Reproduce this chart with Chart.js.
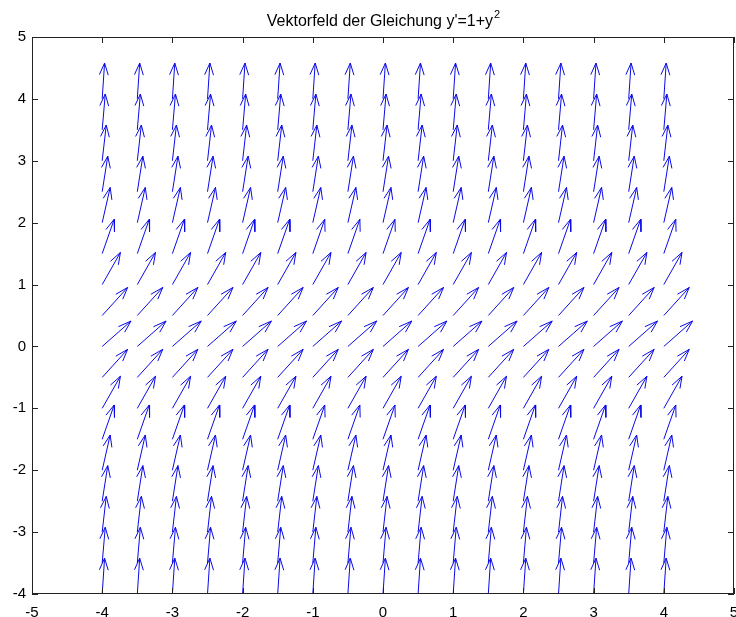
<!DOCTYPE html>
<html>
<head>
<meta charset="utf-8">
<title>Vektorfeld</title>
<script src="https://cdn.jsdelivr.net/npm/chart.js@4/dist/chart.umd.min.js"></script>
<style>
  html, body { margin: 0; padding: 0; background: #fff; }
  canvas { display: block; }
</style>
</head>
<body>
<canvas id="field" width="736" height="617"></canvas>
<script>
// grid points of the field
const xGrid = [-4, -3.5, -3, -2.5, -2, -1.5, -1, -0.5, 0, 0.5, 1, 1.5, 2, 2.5, 3, 3.5, 4];
const yGrid = [-4, -3.5, -3, -2.5, -2, -1.5, -1, -0.5, 0, 0.5, 1, 1.5, 2, 2.5, 3, 3.5, 4];
// slope y' on each row (same for every column)
const rowSlopes = [17, 13.25, 10, 7.25, 5, 3.25, 2, 1.25, 1, 1.25, 2, 3.25, 5, 7.25, 10, 13.25, 17];
// axis ticks
const xTicks = [-5, -4, -3, -2, -1, 0, 1, 2, 3, 4, 5];
const yTicks = [-4, -3, -2, -1, 0, 1, 2, 3, 4, 5];

const titleText = "Vektorfeld der Gleichung y'=1+y";
const titleSup = "2";

// arrow length in data units, head size like quiver
const arrowLen = 0.58;
const headAlpha = 0.33, headBeta = 0.33;

function buildArrows() {
    var pts = [];
    var gap = {x: null, y: null};
    yGrid.forEach(function(y0, j) {
        var s = rowSlopes[j];
        var n = Math.hypot(1, s);
        var u = arrowLen / n, v = arrowLen * s / n;
        xGrid.forEach(function(x0) {
            var tx = x0 + u, ty = y0 + v;
            pts.push({x: x0, y: y0}, {x: tx, y: ty}, gap);
            pts.push({x: tx - headAlpha * (u + headBeta * v), y: ty - headAlpha * (v - headBeta * u)});
            pts.push({x: tx, y: ty});
            pts.push({x: tx - headAlpha * (u - headBeta * v), y: ty - headAlpha * (v + headBeta * u)});
            pts.push(gap);
        });
    });
    return pts;
}

// box around the plot with inward ticks, plus the title
const boxPlugin = {
    id: 'boxPlugin',
    afterDraw: function(chart) {
        var ctx = chart.ctx, a = chart.chartArea;
        var xs = chart.scales.x, ys = chart.scales.y;
        var t = 6;
        ctx.save();
        ctx.strokeStyle = '#222';
        ctx.lineWidth = 1;
        ctx.strokeRect(a.left + 0.5, a.top + 0.5, a.right - a.left - 1, a.bottom - a.top - 1);
        ctx.beginPath();
        xTicks.forEach(function(v) {
            var px = Math.round(xs.getPixelForValue(v)) + 0.5;
            ctx.moveTo(px, a.bottom); ctx.lineTo(px, a.bottom - t);
            ctx.moveTo(px, a.top); ctx.lineTo(px, a.top + t);
        });
        yTicks.forEach(function(v) {
            var py = Math.round(ys.getPixelForValue(v)) + 0.5;
            ctx.moveTo(a.left, py); ctx.lineTo(a.left + t, py);
            ctx.moveTo(a.right, py); ctx.lineTo(a.right - t, py);
        });
        ctx.stroke();

        // title with superscript
        ctx.fillStyle = '#000';
        ctx.textBaseline = 'alphabetic';
        ctx.font = '16px "Liberation Sans", Arial, sans-serif';
        var w1 = ctx.measureText(titleText).width;
        ctx.font = '11px "Liberation Sans", Arial, sans-serif';
        var w2 = ctx.measureText(titleSup).width;
        var cx = (a.left + a.right) / 2;
        var x0 = cx - (w1 + w2) / 2;
        ctx.font = '16px "Liberation Sans", Arial, sans-serif';
        ctx.fillText(titleText, x0, 26);
        ctx.font = '11px "Liberation Sans", Arial, sans-serif';
        ctx.fillText(titleSup, x0 + w1 + 1, 18);
        ctx.restore();
    }
};

var ctx = document.getElementById('field').getContext('2d');
var chart = new Chart(ctx, {
    type: 'line',
    data: {
        datasets: [{
            data: buildArrows(),
            borderColor: '#0a0ae6',
            borderWidth: 1,
            pointRadius: 0,
            tension: 0,
            spanGaps: false,
            fill: false
        }]
    },
    options: {
        responsive: false,
        animation: false,
        layout: { padding: { top: 37, right: 2, left: 0, bottom: 0 } },
        plugins: {
            legend: { display: false },
            tooltip: { enabled: false },
            title: { display: false }
        },
        scales: {
            x: {
                type: 'linear',
                min: -5,
                max: 5,
                grid: { display: false, drawTicks: false },
                border: { display: false },
                afterBuildTicks: function(scale) {
                    scale.ticks = xTicks.map(function(v) { return {value: v}; });
                },
                afterFit: function(scale) {
                    scale.height = 23;
                    scale.paddingLeft = 0;
                    scale.paddingRight = 0;
                },
                ticks: {
                    color: '#000',
                    autoSkip: false,
                    maxRotation: 0,
                    padding: 10,
                    font: { family: '"Liberation Sans", Arial, sans-serif', size: 15 }
                }
            },
            y: {
                type: 'linear',
                min: -4,
                max: 5,
                grid: { display: false, drawTicks: false },
                border: { display: false },
                afterBuildTicks: function(scale) {
                    scale.ticks = yTicks.map(function(v) { return {value: v}; });
                },
                afterFit: function(scale) {
                    scale.width = 32;
                    scale.paddingTop = 0;
                    scale.paddingBottom = 0;
                },
                ticks: {
                    color: '#000',
                    autoSkip: false,
                    padding: 6,
                    font: { family: '"Liberation Sans", Arial, sans-serif', size: 15 }
                }
            }
        }
    },
    plugins: [boxPlugin]
});
</script>
</body>
</html>
